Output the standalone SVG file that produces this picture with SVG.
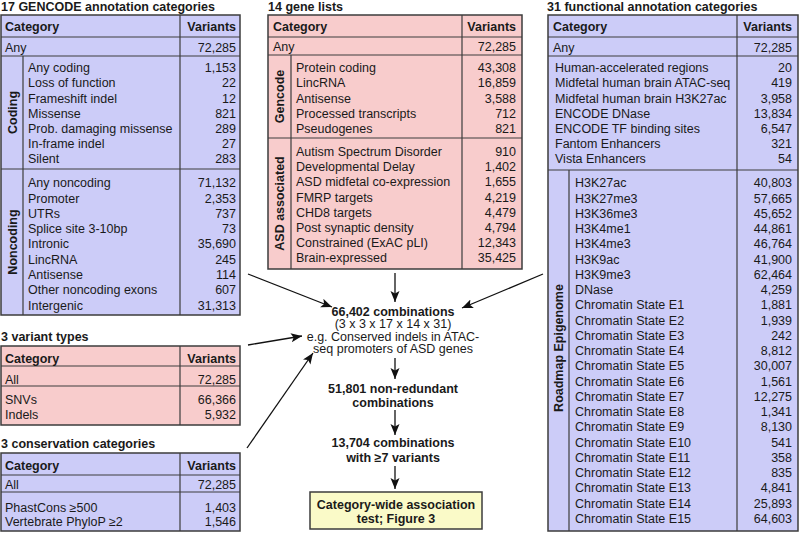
<svg xmlns="http://www.w3.org/2000/svg" width="800" height="533" viewBox="0 0 800 533">
<style>
text{font-family:"Liberation Sans",Arial,Helvetica,sans-serif;font-size:12.5px;fill:#1a1a1a}
.b{font-weight:bold}
.h{font-weight:bold;font-size:12.5px}
.r{text-anchor:end}
.m{text-anchor:middle}
.blue{fill:#ccccf8;stroke:#3c3c3c;stroke-width:1.5}
.pink{fill:#f8cccc;stroke:#3c3c3c;stroke-width:1.5}
.yel{fill:#fafac8;stroke:#3c3c3c;stroke-width:1.5}
.ln{stroke:#3c3c3c;stroke-width:1.2;fill:none}
.ar{stroke:#111;stroke-width:1.3;fill:none;marker-end:url(#ah)}
</style>
<defs>
<marker id="ah" markerUnits="userSpaceOnUse" markerWidth="12" markerHeight="10" refX="11" refY="4.5" orient="auto">
<path d="M0,0 L11,4.5 L0,9 L2.5,4.5 z" fill="#111"/>
</marker>
</defs>

<g id="gencode">
<text class="h" x="1" y="11">17 GENCODE annotation categories</text>
<rect class="blue" x="1" y="15" width="239" height="300"/>
<path class="ln" d="M1,37H240M1,56H240M1,169H240M180,15V315M23,56V315"/>
<text class="b" x="5" y="30.5">Category</text>
<text class="b r" x="236" y="30.5">Variants</text>
<text x="5" y="51.5">Any</text>
<text class="r" x="236" y="51.5">72,285</text>
<text class="b m" transform="translate(16.5,112.5) rotate(-90)">Coding</text>
<text class="b m" transform="translate(16.5,242) rotate(-90)">Noncoding</text>
<text><tspan x="28" y="72.2">Any coding</tspan><tspan x="28" y="87.4">Loss of function</tspan><tspan x="28" y="102.6">Frameshift indel</tspan><tspan x="28" y="117.8">Missense</tspan><tspan x="28" y="133">Prob. damaging missense</tspan><tspan x="28" y="148.2">In-frame indel</tspan><tspan x="28" y="163.4">Silent</tspan></text>
<text class="r"><tspan x="236" y="72.2">1,153</tspan><tspan x="236" y="87.4">22</tspan><tspan x="236" y="102.6">12</tspan><tspan x="236" y="117.8">821</tspan><tspan x="236" y="133">289</tspan><tspan x="236" y="148.2">27</tspan><tspan x="236" y="163.4">283</tspan></text>
<text><tspan x="28" y="187.2">Any noncoding</tspan><tspan x="28" y="202.5">Promoter</tspan><tspan x="28" y="217.8">UTRs</tspan><tspan x="28" y="233.1">Splice site 3-10bp</tspan><tspan x="28" y="248.4">Intronic</tspan><tspan x="28" y="263.7">LincRNA</tspan><tspan x="28" y="279">Antisense</tspan><tspan x="28" y="294.3">Other noncoding exons</tspan><tspan x="28" y="309.6">Intergenic</tspan></text>
<text class="r"><tspan x="236" y="187.2">71,132</tspan><tspan x="236" y="202.5">2,353</tspan><tspan x="236" y="217.8">737</tspan><tspan x="236" y="233.1">73</tspan><tspan x="236" y="248.4">35,690</tspan><tspan x="236" y="263.7">245</tspan><tspan x="236" y="279">114</tspan><tspan x="236" y="294.3">607</tspan><tspan x="236" y="309.6">31,313</tspan></text>
</g>

<g id="variant-types">
<text class="h" x="1" y="341">3 variant types</text>
<rect class="pink" x="1" y="346" width="239" height="79"/>
<path class="ln" d="M1,366H240M1,386H240M180,346V425"/>
<text class="b" x="5" y="362.8">Category</text>
<text class="b r" x="236" y="362.8">Variants</text>
<text x="5" y="383.5">All</text>
<text class="r" x="236" y="383.5">72,285</text>
<text><tspan x="5" y="403.5">SNVs</tspan><tspan x="5" y="418.8">Indels</tspan></text>
<text class="r"><tspan x="236" y="403.5">66,366</tspan><tspan x="236" y="418.8">5,932</tspan></text>
</g>

<g id="conservation">
<text class="h" x="1" y="448">3 conservation categories</text>
<rect class="blue" x="1" y="453" width="239" height="78"/>
<path class="ln" d="M1,475H240M1,492H240M180,453V531"/>
<text class="b" x="5" y="470">Category</text>
<text class="b r" x="236" y="470">Variants</text>
<text x="5" y="489.3">All</text>
<text class="r" x="236" y="489.3">72,285</text>
<text><tspan x="5" y="512">PhastCons ≥500</tspan><tspan x="5" y="526">Vertebrate PhyloP ≥2</tspan></text>
<text class="r"><tspan x="236" y="512">1,403</tspan><tspan x="236" y="526">1,546</tspan></text>
</g>

<g id="gene-lists">
<text class="h" x="268" y="11">14 gene lists</text>
<rect class="pink" x="268" y="15" width="254" height="254"/>
<path class="ln" d="M268,37H522M268,55H522M268,138H522M462,15V269M291,55V269"/>
<text class="b" x="273" y="30.5">Category</text>
<text class="b r" x="516" y="30.5">Variants</text>
<text x="273" y="51">Any</text>
<text class="r" x="516" y="51">72,285</text>
<text class="b m" transform="translate(284,96.5) rotate(-90)">Gencode</text>
<text class="b m" transform="translate(284,203.5) rotate(-90)">ASD associated</text>
<text><tspan x="296" y="72.2">Protein coding</tspan><tspan x="296" y="87.4">LincRNA</tspan><tspan x="296" y="102.6">Antisense</tspan><tspan x="296" y="117.8">Processed transcripts</tspan><tspan x="296" y="133">Pseudogenes</tspan></text>
<text class="r"><tspan x="516" y="72.2">43,308</tspan><tspan x="516" y="87.4">16,859</tspan><tspan x="516" y="102.6">3,588</tspan><tspan x="516" y="117.8">712</tspan><tspan x="516" y="133">821</tspan></text>
<text><tspan x="296" y="156.2">Autism Spectrum Disorder</tspan><tspan x="296" y="171.3">Developmental Delay</tspan><tspan x="296" y="186.4">ASD midfetal co-expression</tspan><tspan x="296" y="201.5">FMRP targets</tspan><tspan x="296" y="216.6">CHD8 targets</tspan><tspan x="296" y="231.7">Post synaptic density</tspan><tspan x="296" y="246.8">Constrained (ExAC pLI)</tspan><tspan x="296" y="261.9">Brain-expressed</tspan></text>
<text class="r"><tspan x="516" y="156.2">910</tspan><tspan x="516" y="171.3">1,402</tspan><tspan x="516" y="186.4">1,655</tspan><tspan x="516" y="201.5">4,219</tspan><tspan x="516" y="216.6">4,479</tspan><tspan x="516" y="231.7">4,794</tspan><tspan x="516" y="246.8">12,343</tspan><tspan x="516" y="261.9">35,425</tspan></text>
</g>

<g id="functional">
<text class="h" x="547" y="11">31 functional annotation categories</text>
<rect class="blue" x="548" y="15" width="250" height="516"/>
<path class="ln" d="M548,37H798M548,56H798M548,170H798M737,15V531M569,170V531"/>
<text class="b" x="553" y="30.5">Category</text>
<text class="b r" x="792" y="30.5">Variants</text>
<text x="553" y="51.5">Any</text>
<text class="r" x="792" y="51.5">72,285</text>
<text><tspan x="555" y="72.2">Human-accelerated regions</tspan><tspan x="555" y="87.4">Midfetal human brain ATAC-seq</tspan><tspan x="555" y="102.6">Midfetal human brain H3K27ac</tspan><tspan x="555" y="117.8">ENCODE DNase</tspan><tspan x="555" y="133">ENCODE TF binding sites</tspan><tspan x="555" y="148.2">Fantom Enhancers</tspan><tspan x="555" y="163.4">Vista Enhancers</tspan></text>
<text class="r"><tspan x="792" y="72.2">20</tspan><tspan x="792" y="87.4">419</tspan><tspan x="792" y="102.6">3,958</tspan><tspan x="792" y="117.8">13,834</tspan><tspan x="792" y="133">6,547</tspan><tspan x="792" y="148.2">321</tspan><tspan x="792" y="163.4">54</tspan></text>
<text class="b m" transform="translate(563,348) rotate(-90)">Roadmap Epigenome</text>
<text><tspan x="575" y="187.2">H3K27ac</tspan><tspan x="575" y="202.5">H3K27me3</tspan><tspan x="575" y="217.7">H3K36me3</tspan><tspan x="575" y="233">H3K4me1</tspan><tspan x="575" y="248.2">H3K4me3</tspan><tspan x="575" y="263.5">H3K9ac</tspan><tspan x="575" y="278.7">H3K9me3</tspan><tspan x="575" y="294">DNase</tspan><tspan x="575" y="309.2">Chromatin State E1</tspan><tspan x="575" y="324.5">Chromatin State E2</tspan><tspan x="575" y="339.8">Chromatin State E3</tspan><tspan x="575" y="355">Chromatin State E4</tspan><tspan x="575" y="370.3">Chromatin State E5</tspan><tspan x="575" y="385.5">Chromatin State E6</tspan><tspan x="575" y="400.8">Chromatin State E7</tspan><tspan x="575" y="416">Chromatin State E8</tspan><tspan x="575" y="431.3">Chromatin State E9</tspan><tspan x="575" y="446.5">Chromatin State E10</tspan><tspan x="575" y="461.8">Chromatin State E11</tspan><tspan x="575" y="477">Chromatin State E12</tspan><tspan x="575" y="492.3">Chromatin State E13</tspan><tspan x="575" y="507.6">Chromatin State E14</tspan><tspan x="575" y="522.8">Chromatin State E15</tspan></text>
<text class="r"><tspan x="792" y="187.2">40,803</tspan><tspan x="792" y="202.5">57,665</tspan><tspan x="792" y="217.7">45,652</tspan><tspan x="792" y="233">44,861</tspan><tspan x="792" y="248.2">46,764</tspan><tspan x="792" y="263.5">41,900</tspan><tspan x="792" y="278.7">62,464</tspan><tspan x="792" y="294">4,259</tspan><tspan x="792" y="309.2">1,881</tspan><tspan x="792" y="324.5">1,939</tspan><tspan x="792" y="339.8">242</tspan><tspan x="792" y="355">8,812</tspan><tspan x="792" y="370.3">30,007</tspan><tspan x="792" y="385.5">1,561</tspan><tspan x="792" y="400.8">12,275</tspan><tspan x="792" y="416">1,341</tspan><tspan x="792" y="431.3">8,130</tspan><tspan x="792" y="446.5">541</tspan><tspan x="792" y="461.8">358</tspan><tspan x="792" y="477">835</tspan><tspan x="792" y="492.3">4,841</tspan><tspan x="792" y="507.6">25,893</tspan><tspan x="792" y="522.8">64,603</tspan></text>
</g>

<g id="combinations">
<text class="b m" x="393" y="315.5">66,402 combinations</text>
<text class="m" x="393" y="328">(3 x 3 x 17 x 14 x 31)</text>
<text class="m" x="393" y="340.5">e.g. Conserved indels in ATAC-</text>
<text class="m" x="393" y="353">seq promoters of ASD genes</text>
</g>

<g id="non-redundant">
<text class="b m" x="393" y="392.5">51,801 non-redundant</text>
<text class="b m" x="393" y="406.5">combinations</text>
</g>

<g id="filtered">
<text class="b m" x="393" y="447">13,704 combinations</text>
<text class="b m" x="393" y="462">with ≥7 variants</text>
</g>

<g id="test">
<rect class="yel" x="310" y="492" width="172" height="37"/>
<text class="b m" x="396" y="508.5">Category-wide association</text>
<text class="b m" x="396" y="523">test; Figure 3</text>
</g>

<g id="connectors">
<line class="ar" x1="248" y1="274" x2="332" y2="307"/>
<line class="ar" x1="248" y1="345" x2="302" y2="336"/>
<line class="ar" x1="247" y1="448" x2="313" y2="353"/>
<line class="ar" x1="543" y1="274" x2="462" y2="308"/>
<line class="ar" x1="395" y1="273" x2="395" y2="302"/>
<line class="ar" x1="395" y1="358" x2="395" y2="379"/>
<line class="ar" x1="395" y1="410" x2="395" y2="435"/>
<line class="ar" x1="395" y1="466" x2="395" y2="489"/>
</g>
</svg>
